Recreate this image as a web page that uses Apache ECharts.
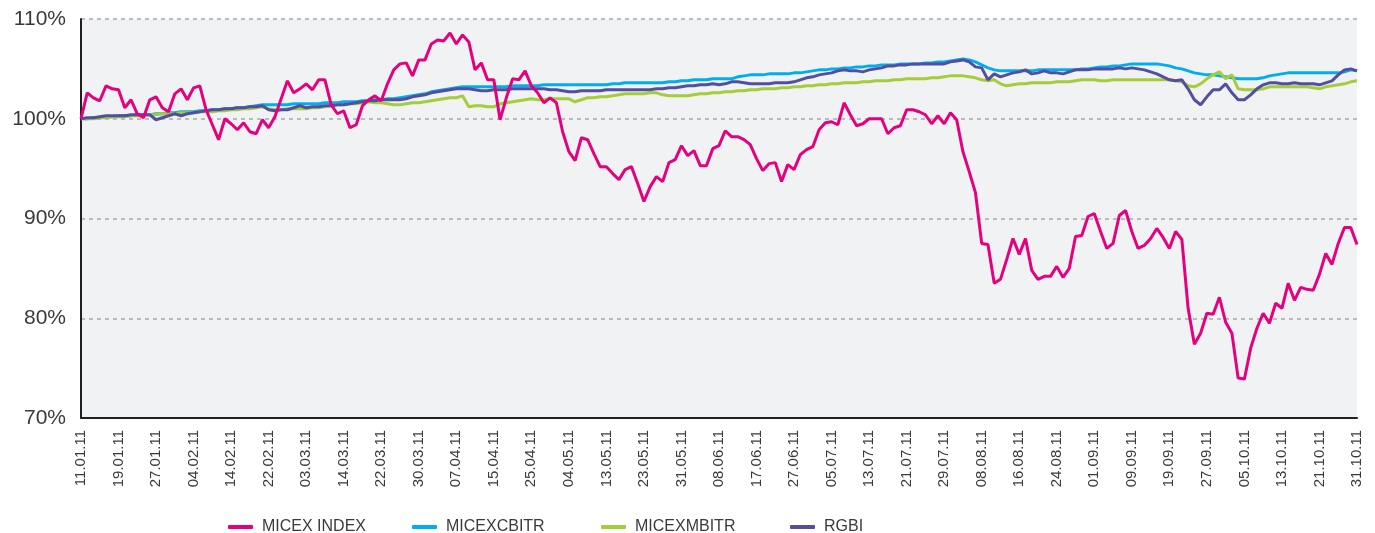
<!DOCTYPE html>
<html>
<head>
<meta charset="utf-8">
<script src="https://cdn.jsdelivr.net/npm/echarts@6/dist/echarts.min.js"></script>
<style>
  html, body { margin: 0; padding: 0; background: #fff; }
  #chart { width: 1375px; height: 533px; }
</style>
</head>
<body>
<div id="chart"></div>
<script>
// tick labels, one every 6 trading days
var tickLabels = ['11.01.11', '19.01.11', '27.01.11', '04.02.11', '14.02.11', '22.02.11', '03.03.11',
  '14.03.11', '22.03.11', '30.03.11', '07.04.11', '15.04.11', '25.04.11', '04.05.11', '13.05.11',
  '23.05.11', '31.05.11', '08.06.11', '17.06.11', '27.06.11', '05.07.11', '13.07.11', '21.07.11',
  '29.07.11', '08.08.11', '16.08.11', '24.08.11', '01.09.11', '09.09.11', '19.09.11', '27.09.11',
  '05.10.11', '13.10.11', '21.10.11', '31.10.11'];

var seriesNames = ['MICEX INDEX', 'MICEXCBITR', 'MICEXMBITR', 'RGBI'];

// daily values, % of 11.01.11
var micexIndex = [
  100.0, 102.6, 102.1, 101.8, 103.3, 103.0, 102.9, 101.1, 101.9, 100.5,
  100.1, 101.9, 102.2, 101.1, 100.7, 102.5, 103.0, 101.9, 103.1, 103.3,
  100.9, 99.4, 97.9, 100.0, 99.5, 98.9, 99.6, 98.7, 98.5, 99.9,
  99.1, 100.2, 102.0, 103.8, 102.6, 103.0, 103.5, 102.9, 103.9, 103.9,
  101.4, 100.5, 100.8, 99.1, 99.4, 101.3, 101.9, 102.3, 101.8, 103.5,
  104.9, 105.5, 105.6, 104.3, 105.9, 105.9, 107.5, 107.9, 107.8, 108.6,
  107.5, 108.4, 107.7, 104.9, 105.6, 103.9, 103.9, 99.9, 102.1, 104.0,
  103.9, 104.8, 103.3, 102.6, 101.6, 102.1, 101.6, 98.7, 96.7, 95.8,
  98.1, 97.9, 96.5, 95.2, 95.2, 94.5, 93.9, 94.9, 95.2, 93.5,
  91.7, 93.2, 94.2, 93.7, 95.6, 95.9, 97.3, 96.3, 96.8, 95.3,
  95.3, 97.0, 97.3, 98.8, 98.2, 98.2, 97.9, 97.4, 96.0, 94.8,
  95.5, 95.6, 93.7, 95.4, 94.9, 96.4, 96.9, 97.2, 98.9, 99.6,
  99.7, 99.4, 101.6, 100.4, 99.3, 99.5, 100.0, 100.0, 100.0, 98.5,
  99.1, 99.3, 100.9, 100.9, 100.7, 100.4, 99.5, 100.3, 99.5, 100.6,
  99.9, 96.7, 94.7, 92.6, 87.5, 87.4, 83.5, 83.9, 85.9, 88.0,
  86.4, 88.0, 84.8, 83.9, 84.2, 84.2, 85.2, 84.1, 85.0, 88.2,
  88.3, 90.2, 90.5, 88.7, 87.0, 87.5, 90.3, 90.8, 88.7, 87.0,
  87.3, 88.0, 89.0, 88.1, 87.0, 88.7, 87.9, 81.0, 77.4, 78.5,
  80.5, 80.4, 82.1, 79.6, 78.5, 74.0, 73.9, 77.0, 79.0, 80.5,
  79.5, 81.5, 81.0, 83.5, 81.8, 83.1, 82.9, 82.8, 84.4, 86.5,
  85.4, 87.5, 89.1, 89.1, 87.4
];

var micexCbitr = [
  100.0, 100.0, 100.1, 100.1, 100.2, 100.2, 100.3, 100.3, 100.3, 100.4,
  100.4, 100.4, 100.5, 100.5, 100.6, 100.6, 100.7, 100.7, 100.7, 100.8,
  100.8, 100.9, 100.9, 101.0, 101.0, 101.1, 101.1, 101.2, 101.3, 101.4,
  101.4, 101.4, 101.4, 101.4, 101.5, 101.5, 101.5, 101.5, 101.5, 101.6,
  101.6, 101.6, 101.7, 101.7, 101.7, 101.8, 101.8, 101.9, 101.9, 102.0,
  102.0, 102.1, 102.2, 102.3, 102.4, 102.5, 102.7, 102.8, 102.9, 103.0,
  103.1, 103.2, 103.2, 103.2, 103.2, 103.2, 103.2, 103.2, 103.2, 103.3,
  103.3, 103.3, 103.3, 103.3, 103.4, 103.4, 103.4, 103.4, 103.4, 103.4,
  103.4, 103.4, 103.4, 103.4, 103.4, 103.5, 103.5, 103.6, 103.6, 103.6,
  103.6, 103.6, 103.6, 103.6, 103.7, 103.7, 103.8, 103.8, 103.9, 103.9,
  103.9, 104.0, 104.0, 104.0, 104.0, 104.2, 104.3, 104.4, 104.4, 104.4,
  104.5, 104.5, 104.5, 104.5, 104.6, 104.6, 104.7, 104.8, 104.9, 104.9,
  105.0, 105.0, 105.1, 105.1, 105.2, 105.2, 105.3, 105.3, 105.4, 105.4,
  105.4, 105.5, 105.5, 105.5, 105.5, 105.6, 105.6, 105.7, 105.7, 105.8,
  105.9, 106.0, 105.9, 105.7, 105.4, 105.1, 104.9, 104.8, 104.8, 104.8,
  104.8, 104.8, 104.8, 104.9, 104.9, 104.9, 104.9, 104.9, 104.9, 104.9,
  105.0, 105.0, 105.1, 105.2, 105.2, 105.3, 105.3, 105.4, 105.5, 105.5,
  105.5, 105.5, 105.5, 105.4, 105.3, 105.1, 105.0, 104.8, 104.6, 104.5,
  104.4, 104.4, 104.3, 104.2, 104.1, 104.0, 104.0, 104.0, 104.0, 104.1,
  104.3, 104.4, 104.5, 104.6, 104.6, 104.6, 104.6, 104.6, 104.6, 104.6,
  104.6, 104.6, 104.7, 104.9, 104.8
];

var micexMbitr = [
  100.0, 100.0, 100.0, 100.1, 100.1, 100.2, 100.2, 100.2, 100.3, 100.3,
  100.4, 100.4, 100.4, 100.5, 100.5, 100.5, 100.6, 100.6, 100.6, 100.7,
  100.7, 100.7, 100.8, 100.8, 100.9, 100.9, 101.0, 101.0, 101.1, 101.2,
  101.0, 100.9, 100.9, 101.0, 101.0, 101.0, 101.0, 101.1, 101.1, 101.2,
  101.3, 101.4, 101.4, 101.5, 101.5, 101.6, 101.7, 101.6, 101.6, 101.5,
  101.4, 101.4, 101.5, 101.6, 101.6, 101.7, 101.8, 101.9, 102.0, 102.1,
  102.1, 102.3, 101.2, 101.3, 101.3, 101.2, 101.2, 101.5, 101.6, 101.7,
  101.8, 101.9, 102.0, 101.9, 101.9, 102.0, 102.0, 102.0, 102.0, 101.7,
  101.9, 102.1, 102.1, 102.2, 102.2, 102.3, 102.4, 102.5, 102.5, 102.5,
  102.5, 102.6, 102.6, 102.4, 102.3, 102.3, 102.3, 102.3, 102.4, 102.5,
  102.5, 102.6, 102.6, 102.7, 102.7, 102.8, 102.8, 102.9, 102.9, 103.0,
  103.0, 103.0, 103.1, 103.1, 103.2, 103.2, 103.3, 103.3, 103.4, 103.4,
  103.5, 103.5, 103.6, 103.6, 103.6, 103.7, 103.7, 103.8, 103.8, 103.8,
  103.9, 103.9, 104.0, 104.0, 104.0, 104.0, 104.1, 104.1, 104.2, 104.3,
  104.3, 104.3, 104.2, 104.1, 103.9, 103.8, 103.9, 103.5, 103.3, 103.4,
  103.5, 103.5, 103.6, 103.6, 103.6, 103.6, 103.7, 103.7, 103.7, 103.8,
  103.9, 103.9, 103.9, 103.8, 103.8, 103.9, 103.9, 103.9, 103.9, 103.9,
  103.9, 103.9, 103.9, 103.9, 103.9, 103.8, 103.7, 103.3, 103.2, 103.5,
  104.0, 104.4, 104.7, 104.0, 104.4, 103.0, 102.9, 102.9, 102.9, 103.0,
  103.2, 103.2, 103.2, 103.2, 103.2, 103.2, 103.2, 103.1, 103.0, 103.2,
  103.3, 103.4, 103.5, 103.7, 103.8
];

var rgbi = [
  100.0, 100.1, 100.1, 100.2, 100.3, 100.3, 100.3, 100.3, 100.4, 100.4,
  100.4, 100.4, 99.9, 100.1, 100.3, 100.5, 100.3, 100.5, 100.6, 100.7,
  100.8, 100.9, 100.9, 101.0, 101.0, 101.1, 101.1, 101.2, 101.2, 101.3,
  100.9, 100.8, 100.9, 100.9, 101.1, 101.3, 101.1, 101.2, 101.2, 101.3,
  101.3, 101.4, 101.4, 101.5, 101.6, 101.7, 101.8, 101.8, 101.9, 101.9,
  101.9, 101.9, 102.0, 102.2, 102.3, 102.4, 102.6, 102.7, 102.8, 102.9,
  103.0, 103.0, 103.0, 102.9, 102.8, 102.8, 102.9, 102.9, 102.9, 103.0,
  103.0, 103.0, 103.0, 103.0, 103.0, 102.9, 102.9, 102.8, 102.7, 102.7,
  102.8, 102.8, 102.8, 102.8, 102.9, 102.9, 102.9, 102.9, 102.9, 102.9,
  102.9, 102.9, 103.0, 103.0, 103.1, 103.1, 103.2, 103.3, 103.3, 103.4,
  103.4, 103.5, 103.4, 103.5, 103.7, 103.7, 103.6, 103.5, 103.5, 103.5,
  103.5, 103.6, 103.6, 103.6, 103.7, 103.9, 104.1, 104.2, 104.4, 104.5,
  104.6, 104.8, 104.9, 104.8, 104.8, 104.7, 104.9, 105.0, 105.1, 105.3,
  105.3, 105.4, 105.4, 105.5, 105.5, 105.5, 105.5, 105.5, 105.5, 105.7,
  105.8, 105.9, 105.7, 105.2, 105.1, 103.9, 104.5, 104.2, 104.4, 104.6,
  104.7, 104.9, 104.5, 104.6, 104.8, 104.6, 104.6, 104.5, 104.7, 104.9,
  104.9, 104.9, 105.0, 105.0, 105.0, 105.0, 105.1, 105.0, 105.1, 105.0,
  104.9, 104.7, 104.5, 104.2, 103.9, 103.8, 103.9, 103.0, 101.9, 101.4,
  102.2, 102.9, 102.9, 103.5, 102.6, 101.9, 101.9, 102.4, 103.0, 103.4,
  103.6, 103.6, 103.5, 103.5, 103.6, 103.5, 103.5, 103.5, 103.4, 103.6,
  103.8, 104.4, 104.9, 105.0, 104.8
];

var days = micexIndex.map(function (v, i) { return i; });

var chart = echarts.init(document.getElementById('chart'));

function lineSeries(name, data, color, z) {
  return {
    name: name,
    type: 'line',
    data: data,
    symbol: 'none',
    z: z,
    lineStyle: { color: color, width: 3 },
    itemStyle: { color: color }
  };
}

// one legend per entry so the entries sit at even steps like the original
var legendLeft = [223, 407, 596, 785];
var legends = seriesNames.map(function (name, i) {
  return {
    data: [name],
    left: legendLeft[i],
    top: 514,
    icon: 'roundRect',
    itemWidth: 25,
    itemHeight: 4,
    textStyle: {
      fontFamily: 'Liberation Sans, sans-serif',
      fontSize: 16,
      color: '#3a3a3a',
      padding: [0, 0, 0, 4]
    }
  };
});

chart.setOption({
  animation: false,
  grid: {
    left: 81, right: 18, top: 19, bottom: 115,
    show: true, backgroundColor: '#f1f2f4', borderWidth: 0
  },
  legend: legends,
  xAxis: {
    type: 'category',
    data: days,
    boundaryGap: false,
    axisLine: { lineStyle: { color: '#231f20', width: 2 } },
    axisTick: { show: false },
    splitLine: { show: false },
    axisLabel: {
      interval: 5,
      rotate: 90,
      margin: 12,
      fontFamily: 'Liberation Sans, sans-serif',
      fontSize: 15,
      color: '#3a3a3a',
      formatter: function (v, i) { return tickLabels[i / 6] || ''; }
    }
  },
  yAxis: {
    type: 'value',
    min: 70, max: 110, interval: 10,
    axisLine: { show: true, lineStyle: { color: '#231f20', width: 2 } },
    axisTick: { show: false },
    splitLine: { lineStyle: { color: '#ababab', width: 1.5, type: [4, 4] } },
    axisLabel: {
      margin: 15,
      fontFamily: 'Liberation Sans, sans-serif',
      fontSize: 21,
      color: '#3a3a3a',
      formatter: '{value}%'
    }
  },
  series: [
    lineSeries(seriesNames[0], micexIndex, '#e5007e', 6),
    lineSeries(seriesNames[1], micexCbitr, '#00aeef', 3),
    lineSeries(seriesNames[2], micexMbitr, '#a5cd39', 3),
    lineSeries(seriesNames[3], rgbi, '#524fa1', 4)
  ]
});
</script>
</body>
</html>
